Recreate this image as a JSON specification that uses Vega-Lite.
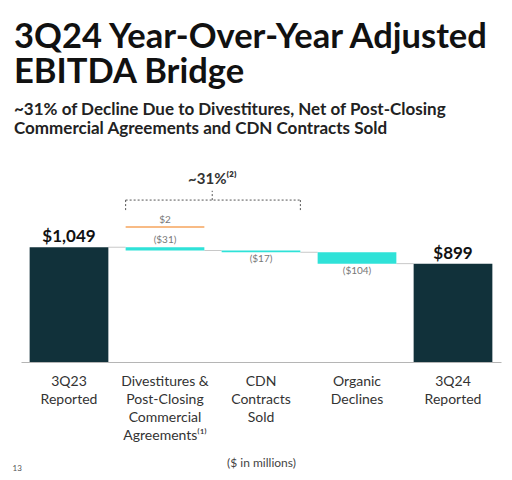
{
  "$schema": "https://vega.github.io/schema/vega-lite/v6.json",
  "width": 480,
  "height": 186,
  "autosize": "none",
  "padding": {"left": 21, "top": 176, "right": 11, "bottom": 118},
  "background": "white",
  "config": {"view": {"stroke": null}},
  "title": {
    "text": ["3Q24 Year-Over-Year Adjusted", "EBITDA Bridge"],
    "subtitle": ["~31% of Decline Due to Divestitures, Net of Post-Closing", "Commercial Agreements and CDN Contracts Sold"],
    "anchor": "start",
    "frame": "group",
    "dx": -7,
    "font": "Lato",
    "fontSize": 34.5,
    "fontWeight": "bold",
    "lineHeight": 34.5,
    "color": "#111111",
    "subtitleFont": "Lato",
    "subtitleFontSize": 17,
    "subtitleFontWeight": "bold",
    "subtitleColor": "#222222",
    "subtitleLineHeight": 19,
    "subtitlePadding": 12,
    "offset": 34
  },
  "datasets": {
    "steps": [
      {"cat": "3Q23|Reported", "start": 0, "end": 1049, "kind": "total", "label": "$1,049"},
      {"cat": "Divestitures &|Post-Closing|Commercial|Agreements⁽¹⁾", "start": 1049, "end": 1018, "kind": "decrease", "label": "($31)"},
      {"cat": "CDN|Contracts|Sold", "start": 1020, "end": 1003, "kind": "decrease", "label": "($17)"},
      {"cat": "Organic|Declines", "start": 1003, "end": 899, "kind": "decrease", "label": "($104)"},
      {"cat": "3Q24|Reported", "start": 0, "end": 899, "kind": "total", "label": "$899"}
    ],
    "connectors": [
      {"from": "3Q23|Reported", "to": "Divestitures &|Post-Closing|Commercial|Agreements⁽¹⁾", "v": 1049},
      {"from": "Divestitures &|Post-Closing|Commercial|Agreements⁽¹⁾", "to": "CDN|Contracts|Sold", "v": 1019},
      {"from": "CDN|Contracts|Sold", "to": "Organic|Declines", "v": 1003},
      {"from": "Organic|Declines", "to": "3Q24|Reported", "v": 899}
    ],
    "increase": [
      {"cat": "Divestitures &|Post-Closing|Commercial|Agreements⁽¹⁾", "v": 1235, "label": "$2"}
    ],
    "smallLabels": [
      {"cat": "Divestitures &|Post-Closing|Commercial|Agreements⁽¹⁾", "v": 1049, "label": "($31)", "side": "above"},
      {"cat": "Divestitures &|Post-Closing|Commercial|Agreements⁽¹⁾", "v": 1235, "label": "$2", "side": "above"},
      {"cat": "CDN|Contracts|Sold", "v": 1003, "label": "($17)", "side": "below"},
      {"cat": "Organic|Declines", "v": 899, "label": "($104)", "side": "below"}
    ],
    "bracket": [
      {"left": "Divestitures &|Post-Closing|Commercial|Agreements⁽¹⁾", "right": "CDN|Contracts|Sold", "top": 1480, "foot": 1385, "notch": 1565, "textY": 1625, "text": "~31%⁽²⁾"}
    ]
  },
  "encoding": {
    "x": {
      "field": "cat",
      "type": "nominal",
      "sort": null,
      "scale": {
        "domain": ["3Q23|Reported", "Divestitures &|Post-Closing|Commercial|Agreements⁽¹⁾", "CDN|Contracts|Sold", "Organic|Declines", "3Q24|Reported"],
        "paddingInner": 0.18,
        "paddingOuter": 0.09
      },
      "axis": {
        "orient": "bottom",
        "labelAngle": 0,
        "labelExpr": "split(datum.label, '|')",
        "labelFont": "Lato",
        "labelFontSize": 14,
        "labelColor": "#333333",
        "labelLineHeight": 18,
        "labelPadding": 12,
        "labelBaseline": "top",
        "ticks": false,
        "domainColor": "#b5b5b5",
        "domainWidth": 1,
        "title": "($ in millions)",
        "titleFont": "Lato",
        "titleFontSize": 12,
        "titleFontWeight": "normal",
        "titleColor": "#444444",
        "titlePadding": 15
      }
    }
  },
  "layer": [
    {
      "data": {"name": "connectors"},
      "mark": {"type": "rule", "color": "#c8c8c8", "strokeWidth": 1},
      "encoding": {
        "x": {"field": "from", "type": "nominal", "bandPosition": 1},
        "x2": {"field": "to", "bandPosition": 0},
        "y": {"field": "v", "type": "quantitative", "scale": {"domain": [0, 1700], "nice": false, "zero": true},
          "axis": {"labels": false, "ticks": false, "domain": false, "grid": false, "title": "13", "titleAngle": 0, "titleFont": "Lato", "titleFontSize": 8, "titleFontWeight": "normal", "titleColor": "#555555", "titleX": -9, "titleY": 294, "titleAlign": "left", "titleBaseline": "alphabetic"}}
      }
    },
    {
      "data": {"name": "steps"},
      "mark": {"type": "bar"},
      "encoding": {
        "y": {"field": "start", "type": "quantitative"},
        "y2": {"field": "end"},
        "color": {"field": "kind", "type": "nominal", "scale": {"domain": ["total", "decrease"], "range": ["#11313a", "#2fe2d8"]}, "legend": null}
      }
    },
    {
      "data": {"name": "increase"},
      "mark": {"type": "rule", "color": "#f6a55c", "strokeWidth": 1.5},
      "encoding": {
        "x": {"field": "cat", "type": "nominal", "bandPosition": 0},
        "x2": {"field": "cat", "bandPosition": 1},
        "y": {"field": "v", "type": "quantitative"}
      }
    },
    {
      "data": {"name": "steps"},
      "transform": [{"filter": "datum.kind == 'total'"}],
      "mark": {"type": "text", "font": "Lato", "fontSize": 17, "fontWeight": "bold", "color": "#111111", "baseline": "alphabetic", "dy": -5},
      "encoding": {
        "y": {"field": "end", "type": "quantitative"},
        "text": {"field": "label"}
      }
    },
    {
      "data": {"name": "smallLabels"},
      "transform": [{"filter": "datum.side == 'above'"}],
      "mark": {"type": "text", "font": "Lato", "fontSize": 10, "color": "#777777", "baseline": "alphabetic", "dy": -4},
      "encoding": {
        "y": {"field": "v", "type": "quantitative"},
        "text": {"field": "label"}
      }
    },
    {
      "data": {"name": "smallLabels"},
      "transform": [{"filter": "datum.side == 'below'"}],
      "mark": {"type": "text", "font": "Lato", "fontSize": 10, "color": "#777777", "baseline": "alphabetic", "dy": 10},
      "encoding": {
        "y": {"field": "v", "type": "quantitative"},
        "text": {"field": "label"}
      }
    },
    {
      "data": {"name": "bracket"},
      "mark": {"type": "rule", "color": "#555555", "strokeWidth": 1, "strokeDash": [2, 2]},
      "encoding": {
        "x": {"field": "left", "type": "nominal", "bandPosition": 0},
        "x2": {"field": "right", "bandPosition": 1},
        "y": {"field": "top", "type": "quantitative"}
      }
    },
    {
      "data": {"name": "bracket"},
      "mark": {"type": "rule", "color": "#555555", "strokeWidth": 1, "strokeDash": [2, 2]},
      "encoding": {
        "x": {"field": "left", "type": "nominal", "bandPosition": 0},
        "y": {"field": "top", "type": "quantitative"},
        "y2": {"field": "foot"}
      }
    },
    {
      "data": {"name": "bracket"},
      "mark": {"type": "rule", "color": "#555555", "strokeWidth": 1, "strokeDash": [2, 2]},
      "encoding": {
        "x": {"field": "right", "type": "nominal", "bandPosition": 1},
        "y": {"field": "top", "type": "quantitative"},
        "y2": {"field": "foot"}
      }
    },
    {
      "data": {"name": "bracket"},
      "mark": {"type": "rule", "color": "#555555", "strokeWidth": 1, "strokeDash": [2, 2]},
      "encoding": {
        "x": {"field": "left", "type": "nominal", "bandPosition": 1.1},
        "y": {"field": "top", "type": "quantitative"},
        "y2": {"field": "notch"}
      }
    },
    {
      "data": {"name": "bracket"},
      "mark": {"type": "text", "font": "Lato", "fontSize": 15, "fontWeight": "bold", "color": "#333333", "baseline": "alphabetic"},
      "encoding": {
        "x": {"field": "left", "type": "nominal", "bandPosition": 1.1},
        "y": {"field": "textY", "type": "quantitative"},
        "text": {"field": "text"}
      }
    }
  ]
}
